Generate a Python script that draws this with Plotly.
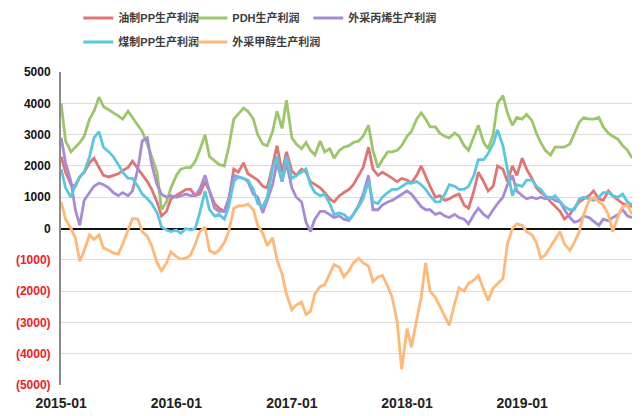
import pandas as pd
import plotly.graph_objects as go

# semi-monthly observation dates (1st and 15th of each month)
dates = pd.date_range("2015-01-01", periods=120, freq="SMS")

names = ["油制PP生产利润", "PDH生产利润", "外采丙烯生产利润", "煤制PP生产利润", "外采甲醇生产利润"]

oil_pp = [2300, 1800, 1400, 1350, 1650, 1800, 2100, 2250, 1950, 1700, 1650, 1700, 1750, 1850, 1950, 2150, 1900, 1700, 1500, 1250, 850, 400, 550, 950,
          1050, 1150, 1250, 1250, 1050, 1100, 1500, 1200, 800, 650, 550, 900, 1900, 1800, 2100, 1750, 1650, 1550, 1350, 1300, 2000, 2650, 1800, 2450,
          1850, 1700, 1900, 1800, 1500, 1400, 1300, 1150, 950, 850, 1050, 1150, 1250, 1400, 1700, 1950, 2600, 1900, 1700, 1800, 1700, 1600, 1500, 1600,
          1550, 1450, 1700, 2000, 1650, 1350, 1000, 1050, 900, 950, 1050, 1100, 750, 650, 1200, 1800, 1500, 1200, 1350, 2000, 1900, 1500, 2000, 1700,
          2250, 1900, 1600, 1300, 1150, 1050, 850, 700, 550, 300, 450, 650, 850, 950, 1050, 1200, 950, 900, 1200, 1050, 900, 800, 750, 700]

pdh = [4000, 2800, 2450, 2600, 2750, 2950, 3500, 3750, 4200, 3900, 3800, 3700, 3600, 3500, 3750, 3550, 3300, 3100, 2700, 2300, 1800, 600, 850, 1300,
       1700, 1900, 1950, 1950, 2150, 2500, 3000, 2300, 2150, 2050, 2000, 2600, 3500, 3650, 3850, 3750, 3500, 3000, 2700, 2650, 3100, 3750, 3200, 4100,
       2900, 2700, 2550, 2750, 2500, 2350, 2800, 2450, 2550, 2250, 2500, 2600, 2650, 2750, 2800, 2950, 3300, 2500, 1950, 2200, 2450, 2450, 2500, 2650,
       2950, 3100, 3500, 3700, 3500, 3250, 3250, 3050, 2950, 2900, 3050, 2950, 2650, 2500, 2950, 3300, 2750, 2550, 3000, 4000, 4250, 3700, 3300, 3550,
       3500, 3650, 3450, 3050, 2750, 2500, 2350, 2600, 2600, 2600, 2700, 3050, 3400, 3550, 3500, 3500, 3550, 3250, 3050, 2950, 2850, 2650, 2500, 2250]

propylene = [2900, 2100, 1500, 600, 100, 900, 1150, 1350, 1450, 1400, 1300, 1150, 1050, 1150, 1050, 1200, 1900, 2800, 2900, 2050, 1400, 1100, 1000, 1050,
             1000, 1050, 1100, 1050, 1050, 1250, 1700, 1200, 650, 550, 550, 950, 1700, 1650, 1600, 1500, 1100, 1000, 500, 900, 1400, 2100, 1500, 2100,
             1300, 1000, 850, 200, -100, 300, 550, 550, 450, 350, 400, 300, 250, 450, 750, 1100, 1700, 600, 600, 750, 850, 900, 1000, 1100,
             1200, 1100, 900, 700, 600, 600, 450, 500, 400, 350, 450, 350, 300, 150, 450, 650, 450, 350, 600, 800, 1000, 1400, 1700, 1200,
             1050, 950, 1000, 950, 1000, 950, 1000, 900, 850, 600, 350, 200, 250, 400, 350, 250, 100, 300, 250, 350, 450, 600, 400, 350]

coal_pp = [1900, 1300, 1000, 1400, 1650, 1800, 2300, 2900, 3100, 2600, 2450, 2300, 2050, 1800, 1600, 1600, 1350, 1100, 950, 800, 500, 50, -50, -100,
           -50, -150, 0, -50, 0, 500, 1200, 600, 400, 450, 300, 700, 1500, 1650, 1600, 1550, 1250, 800, 700, 1000, 1900, 2300, 1500, 2300,
           1600, 1700, 1800, 1900, 1400, 1150, 1050, 1100, 800, 450, 500, 450, 300, 450, 700, 950, 1500, 850, 800, 1000, 1150, 1250, 1250, 1350,
           1450, 1450, 1500, 1400, 1250, 1050, 850, 850, 1100, 1400, 1350, 1250, 1250, 1350, 1700, 2200, 2200, 2400, 2700, 3150, 2650, 1900, 1050, 1400,
           1350, 1550, 1550, 1350, 1250, 1050, 950, 1050, 850, 700, 600, 600, 950, 1000, 950, 900, 1000, 1150, 1150, 1050, 1000, 1100, 850, 750]

methanol = [850, 300, 0, -300, -1050, -700, -200, -350, -200, -620, -700, -780, -820, -500, -50, 320, 300, -100, -250, -550, -1100, -1350, -1100, -750,
            -900, -980, -950, -850, -500, -100, 50, -700, -800, -700, -450, -100, 650, 720, 730, 780, 600, 100, -150, -550, -300, -1000, -1450, -2100,
            -2600, -2450, -2350, -2750, -2650, -2100, -1850, -1800, -1450, -1150, -1250, -1550, -1350, -1100, -950, -1100, -1200, -1700, -1550, -1500, -1850, -2200, -3000, -4500,
            -3200, -3800, -2900, -2200, -1100, -2000, -2200, -2500, -2800, -3100, -2400, -1900, -2000, -1750, -1650, -1500, -1950, -2300, -1900, -1750, -1600, -500, 0, 150,
            100, -100, -200, -450, -950, -850, -550, -350, -100, -500, -700, -450, -100, 450, 900, 1000, 850, 750, 450, -100, 400, 700, 750, 450]

series = [oil_pp, pdh, propylene, coal_pp, methanol]
colors = ["#E07575", "#9DC56A", "#A78BD4", "#5BC6E0", "#FFB877"]
legend_ids = ["legend", "legend2", "legend3", "legend4", "legend5"]

y_ticks = [5000, 4000, 3000, 2000, 1000, 0, -1000, -2000, -3000, -4000, -5000]
y_text = [str(v) if v >= 0 else '<span style="color:#EE1C25">(%d)</span>' % (-v) for v in y_ticks]

FONT = "Liberation Sans, Arial, Noto Sans CJK SC, sans-serif"
LEG_FONT = dict(size=11, color="#3C3C3C", weight="bold")


def leg(x, y):
    return dict(orientation="h", x=x, xanchor="left", y=y, yanchor="middle",
                font=LEG_FONT, bgcolor="rgba(0,0,0,0)")


fig = go.Figure()
for name, vals, col, lg in zip(names, series, colors, legend_ids):
    fig.add_trace(go.Scatter(x=dates, y=vals, name=name, mode="lines",
                             line=dict(color=col, width=2.8), legend=lg))

ROW1, ROW2 = 1.1725, 1.0958
COL1, COL2, COL3 = 0.0303, 0.230, 0.433

fig.update_layout(
    width=643, height=416,
    margin=dict(l=53, r=19, t=64, b=39, autoexpand=False),
    paper_bgcolor="white", plot_bgcolor="white",
    font=dict(family=FONT, size=12, color="#222222"),
    showlegend=True,
    legend=leg(COL1, ROW1),
    legend2=leg(COL2, ROW1),
    legend3=leg(COL3, ROW1),
    legend4=leg(COL1, ROW2),
    legend5=leg(COL2, ROW2),
    xaxis=dict(type="date", range=["2014-12-31 12:00", "2019-12-15"],
               tick0="2015-01-01", dtick="M12", tickformat="%Y-%m",
               showgrid=False, zeroline=False, showline=False, ticks="",
               ticklabelstandoff=8,
               tickfont=dict(size=14, color="#222222", weight="bold")),
    xaxis2=dict(type="date", matches="x", overlaying="x", anchor="free", position=0.5,
                tick0="2015-01-01", dtick="M12", showgrid=False, zeroline=False,
                showline=False, ticks="inside", ticklen=4, tickwidth=1, tickcolor="#333333",
                showticklabels=False, layer="below traces"),
    yaxis=dict(range=[-5005, 5005], tickvals=y_ticks, ticktext=y_text,
               showgrid=True, gridcolor="#DCDCDC", gridwidth=1,
               zeroline=True, zerolinecolor="#111111", zerolinewidth=1.5,
               showline=True, linecolor="#8C8C8C", linewidth=2,
               ticks="", ticklabelstandoff=6,
               tickfont=dict(size=12, color="#111111", weight="bold")),
)

fig.write_html("out.html")
